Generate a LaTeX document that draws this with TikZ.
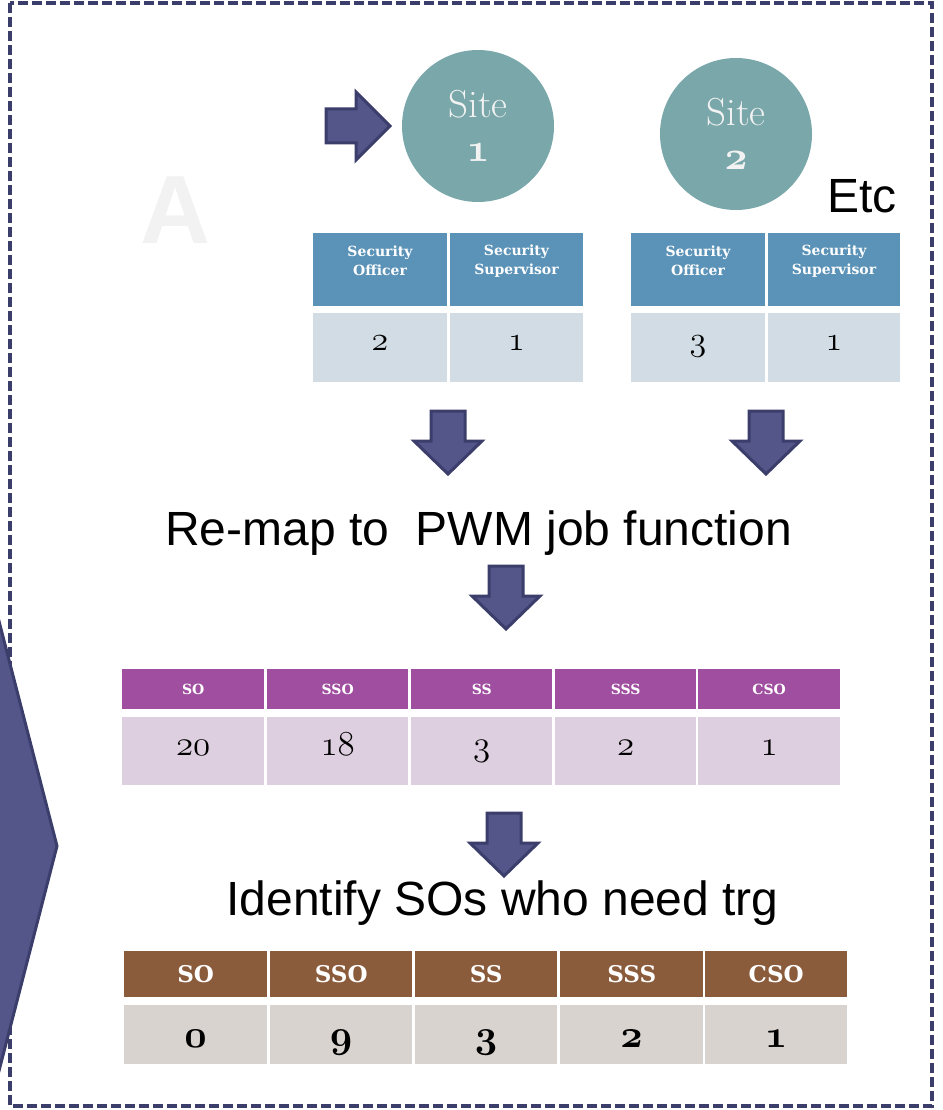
\documentclass[tikz,border=0pt]{standalone}
\usepackage{fontspec}
\setsansfont{Liberation Sans}
\newfontfamily\hdfont{DejaVu Serif}

% old-style figures from the Computer Modern math italic fonts
\font\osfsite=cmmib10 at 40pt
\font\osftab=cmmi12 at 34pt
\font\osfmid=cmmi12 at 35pt
\font\osfbig=cmmib10 at 39pt

\definecolor{navy}{HTML}{3B3D6B}
\definecolor{arrowfill}{HTML}{54568A}
\definecolor{sitefill}{HTML}{7AA7AA}
\definecolor{sitetext}{HTML}{F2F2F2}
\definecolor{faint}{HTML}{F2F2F2}
\definecolor{bluehd}{HTML}{5B92B7}
\definecolor{bluedt}{HTML}{D1DCE4}
\definecolor{purphd}{HTML}{A04FA0}
\definecolor{purpdt}{HTML}{DECFE0}
\definecolor{brownhd}{HTML}{8B5C3C}
\definecolor{browndt}{HTML}{D9D3CF}

\tikzset{
  frame/.style={draw=navy, line width=3.6pt, dash pattern=on 10pt off 4pt},
  blk/.style={fill=arrowfill, draw=navy, line width=3pt, line join=miter},
  downblk/.pic={\path[blk] (-17,0) -- (17,0) -- (17,30) -- (34,30) -- (0,63)
                 -- (-34,30) -- (-17,30) -- cycle;},
  site/.style={circle, fill=sitefill, inner sep=0pt, minimum size=152pt},
  sitetxt/.style={text=sitetext, inner sep=0pt, font=\fontsize{39}{44}\selectfont},
  sitenum/.style={text=sitetext, inner sep=0pt, font=\osfsite},
  cell/.style={rectangle, inner sep=0pt, anchor=north west},
  shtxt/.style={text=white, inner sep=0pt, align=center,
                font=\hdfont\bfseries\fontsize{14}{19}\selectfont},
  sdtxt/.style={text=black, inner sep=0pt, anchor=base, font=\osftab},
  phtxt/.style={text=white, inner sep=0pt, font=\hdfont\bfseries\fontsize{14}{16}\selectfont},
  pdtxt/.style={text=black, inner sep=0pt, anchor=base, font=\osfmid},
  bhtxt/.style={text=white, inner sep=0pt, font=\hdfont\bfseries\fontsize{23}{28}\selectfont},
  bdtxt/.style={text=black, inner sep=0pt, anchor=base, font=\osfbig},
  captxt/.style={text=black, inner sep=0pt, font=\sffamily\fontsize{48}{56}\selectfont},
}

\begin{document}
\begin{tikzpicture}[x=1pt, y=-1pt]
\useasboundingbox (0,0) rectangle (942,1110);
\fill[white] (0,0) rectangle (942,1110);

% watermark letter
\node[text=faint, inner sep=0pt, font=\sffamily\bfseries\fontsize{97}{100}\selectfont]
  (mark) at (176,210) {A};

% dashed outline of the panel
\draw[frame] (10,3) rectangle (932,1106);

% large chevron on the left edge
\begin{scope}
  \clip (0,0) rectangle (942,1110);
  \path[blk] (-40,470) -- (57,846) -- (-40,1222) -- cycle;
\end{scope}

% pointer into site 1
\path[blk] (326,109) -- (356,109) -- (356,92) -- (390,126) -- (356,160)
  -- (356,143) -- (326,143) -- cycle;

% sites
\node[site] (s1) at (478,126) {};
\node[sitetxt] (s1a) at (478,104) {Site};
\node[sitenum, anchor=base] (s1b) at (478,162) {1};
\node[site] (s2) at (736,134) {};
\node[sitetxt] (s2a) at (736,112) {Site};
\node[sitenum, anchor=base] (s2b) at (736,170) {2};
\node[captxt, anchor=base west] (etc) at (827,212) {Etc};

% staffing table of site 1
\node[cell, fill=bluehd, minimum width=134pt, minimum height=73pt] (ah1) at (313,233) {};
\node[cell, fill=bluehd, minimum width=133pt, minimum height=73pt] (ah2) at (450,233) {};
\node[cell, fill=bluedt, minimum width=134pt, minimum height=69pt] (ad1) at (313,313) {};
\node[cell, fill=bluedt, minimum width=133pt, minimum height=69pt] (ad2) at (450,313) {};
\node[shtxt] (ah1t) at (380,261) {Security\\Officer};
\node[shtxt] (ah2t) at (516.5,261) {Security\\Supervisor};
\node[sdtxt] (ad1t) at (380,350) {2};
\node[sdtxt] (ad2t) at (516.5,350) {1};

% staffing table of site 2
\node[cell, fill=bluehd, minimum width=134pt, minimum height=73pt] (bh1) at (631,233) {};
\node[cell, fill=bluehd, minimum width=132pt, minimum height=73pt] (bh2) at (768,233) {};
\node[cell, fill=bluedt, minimum width=134pt, minimum height=69pt] (bd1) at (631,313) {};
\node[cell, fill=bluedt, minimum width=132pt, minimum height=69pt] (bd2) at (768,313) {};
\node[shtxt] (bh1t) at (698,261) {Security\\Officer};
\node[shtxt] (bh2t) at (834,261) {Security\\Supervisor};
\node[sdtxt] (bd1t) at (698,350) {3};
\node[sdtxt] (bd2t) at (834,350) {1};

% down arrows and step captions
\pic at (448,411) {downblk};
\pic at (766,411) {downblk};
\node[captxt, anchor=base] (remap) at (478.5,545) {Re-map to\ \ PWM job function};
\pic at (506,566) {downblk};

% job function totals
\foreach \cx/\cw/\hd/\val [count=\i] in
  {122/142/SO/20, 267/141/SSO/18, 411/141/SS/3, 555/141/SSS/2, 698/142/CSO/1} {
  \node[cell, fill=purphd, minimum width=\cw pt, minimum height=40pt] (ph\i) at (\cx,669) {};
  \node[phtxt] (pht\i) at (ph\i.center) {\hd};
  \node[cell, fill=purpdt, minimum width=\cw pt, minimum height=68pt] (pd\i) at (\cx,717) {};
  \node[pdtxt] (pdt\i) at ([yshift=-38pt]pd\i.north) {\val};
}

\pic at (504,813) {downblk};
\node[captxt, anchor=base] (ident) at (502.5,915) {Identify SOs who need trg};

% training needs
\foreach \cx/\cw/\hd/\val [count=\i] in
  {124/143/SO/0, 270/142/SSO/9, 415/142/SS/3, 560/143/SSS/2, 705/142/CSO/1} {
  \node[cell, fill=brownhd, minimum width=\cw pt, minimum height=46pt] (rh\i) at (\cx,951) {};
  \node[bhtxt] (rht\i) at (rh\i.center) {\hd};
  \node[cell, fill=browndt, minimum width=\cw pt, minimum height=59pt] (rd\i) at (\cx,1005) {};
  \node[bdtxt] (rdt\i) at ([yshift=-42pt]rd\i.north) {\val};
}
\end{tikzpicture}
\end{document}
